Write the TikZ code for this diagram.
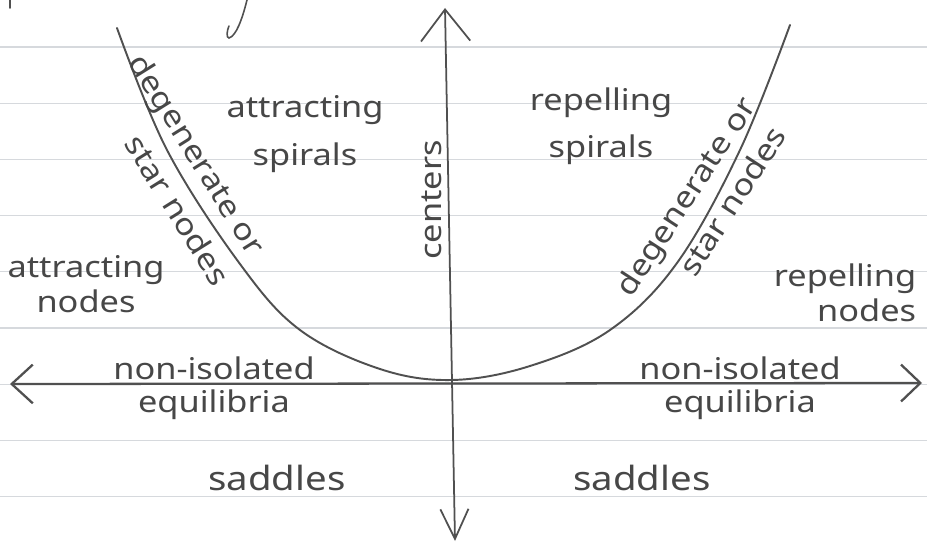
\documentclass[tikz,border=0pt]{standalone}
\usepackage{fontspec}
\setmainfont[FakeStretch=1.15]{Noto Sans}
\usepackage{xcolor}
\definecolor{ink}{HTML}{474747}
\definecolor{pencil}{HTML}{505050}
\definecolor{ruling}{HTML}{D6D9DD}
\usetikzlibrary{arrows.meta}

\begin{document}
\begin{tikzpicture}[
  x=0.02cm, y=-0.02cm,
  region/.style={text=ink, font=\fontsize{17}{27}\selectfont, align=center, inner sep=0pt},
  tight/.style={font=\fontsize{17}{20}\selectfont},
  axisline/.style={draw=pencil, line width=1.3pt, line cap=round},
  curve/.style={draw=pencil, line width=1.1pt, line cap=round},
]

\fill[white] (0,0) rectangle (927,544);
\useasboundingbox (0,0) rectangle (927,544);
\foreach \k in {0,...,8}
  \draw[ruling, line width=0.6pt] (0,{47+56.2*\k}) -- (927,{47+56.2*\k});
\draw[curve, line width=0.9pt] (10,0) -- (10,8);
\draw[curve, line width=0.9pt] (247,0) .. controls (242,20) and (236,36) .. (229,38) .. controls (226,38) and (227,30) .. (229,26);

\coordinate (west) at (10,384);
\coordinate (east) at (922,383);
\coordinate (north) at (445,8);
\coordinate (south) at (455,541);
\coordinate (vertex) at (452,380);

\draw[axisline, {Straight Barb[length=12pt,width=22pt]}-{Straight Barb[length=11pt,width=21pt]}] (west) -- (east);
\draw[axisline, line width=1pt, {Straight Barb[length=18pt,width=28pt]}-{Straight Barb[length=17pt,width=16pt]}] (north) -- (south);
\draw[curve] plot[smooth, tension=0.6] coordinates {(117,28) (167,150) (240,264) (300,330) (380,369) (vertex) (530,366) (610,330) (677,263) (740,150) (790,25)};

\node[region] (attspirals) at (305,134) {attracting\\spirals};
\node[region] (repspirals) at (601,126) {repelling\\spirals};
\node[region, rotate=90, anchor=base] (centers) at (441,200) {centers};
\node[region, tight] (attnodes) at (86,284) {attracting\\nodes};
\node[region, tight, align=right] (repnodes) at (845,293) {repelling\\nodes};

\node[region, rotate=-58] (degleft) at (195,156) {degenerate or};
\node[region, rotate=-58] (starleft) at (178,210) {star nodes};
\node[region, rotate=57] (degright) at (688,198) {degenerate or};
\node[region, rotate=57] (starright) at (732,201) {star nodes};

\node[region, font=\fontsize{17}{19}\selectfont] (noniso-left) at (214,388) {non-isolated\\equilibria};
\node[region, font=\fontsize{17}{19}\selectfont] (noniso-right) at (740,388) {non-isolated\\equilibria};

\node[region, anchor=base, font=\fontsize{19}{27}\selectfont] (saddles-left) at (277,490) {saddles};
\node[region, anchor=base, font=\fontsize{19}{27}\selectfont] (saddles-right) at (642,490) {saddles};

\end{tikzpicture}
\end{document}
